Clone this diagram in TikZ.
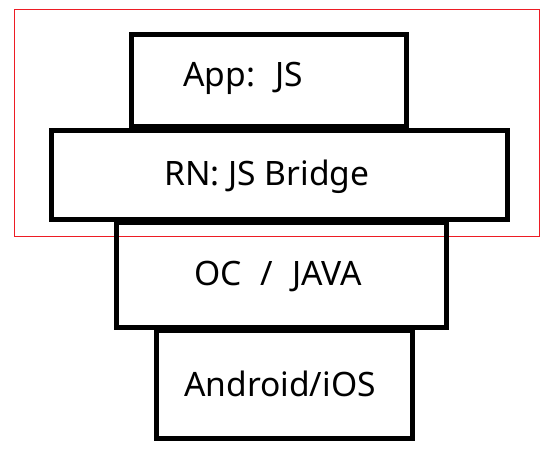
\documentclass[tikz,border=0pt]{standalone}
\usepackage{fontspec}
\setmainfont{Noto Sans}
\definecolor{frame}{RGB}{237,28,36}
\begin{document}
\begin{tikzpicture}[x=1pt,y=1pt,
  layer/.style={draw=black, line width=5pt},
  guide/.style={draw=frame, line width=1pt},
  lbl/.style={font=\fontsize{33.6}{40}\selectfont, anchor=base, inner sep=0pt}]
\useasboundingbox (0,0) rectangle (558,-455);
\draw[guide] (14,-9.7) rectangle (539.5,-236);
\draw[layer] (131.5,-34.5) rectangle (406,-126);
\draw[layer] (51.5,-130.5) rectangle (507.5,-219);
\draw[layer] (116,-222.5) rectangle (446.5,-327.5);
\draw[layer] (156,-330) rectangle (412.5,-438);
\node[lbl] (app) at (243,-86) {App:\hspace{20pt}JS};
\node[lbl] (rn) at (267,-185) {RN: JS Bridge};
\node[lbl] (oc) at (278,-285) {OC\hspace{19pt}/\hspace{19pt}JAVA};
\node[lbl] (os) at (280,-396) {Android/iOS};
\end{tikzpicture}
\end{document}
